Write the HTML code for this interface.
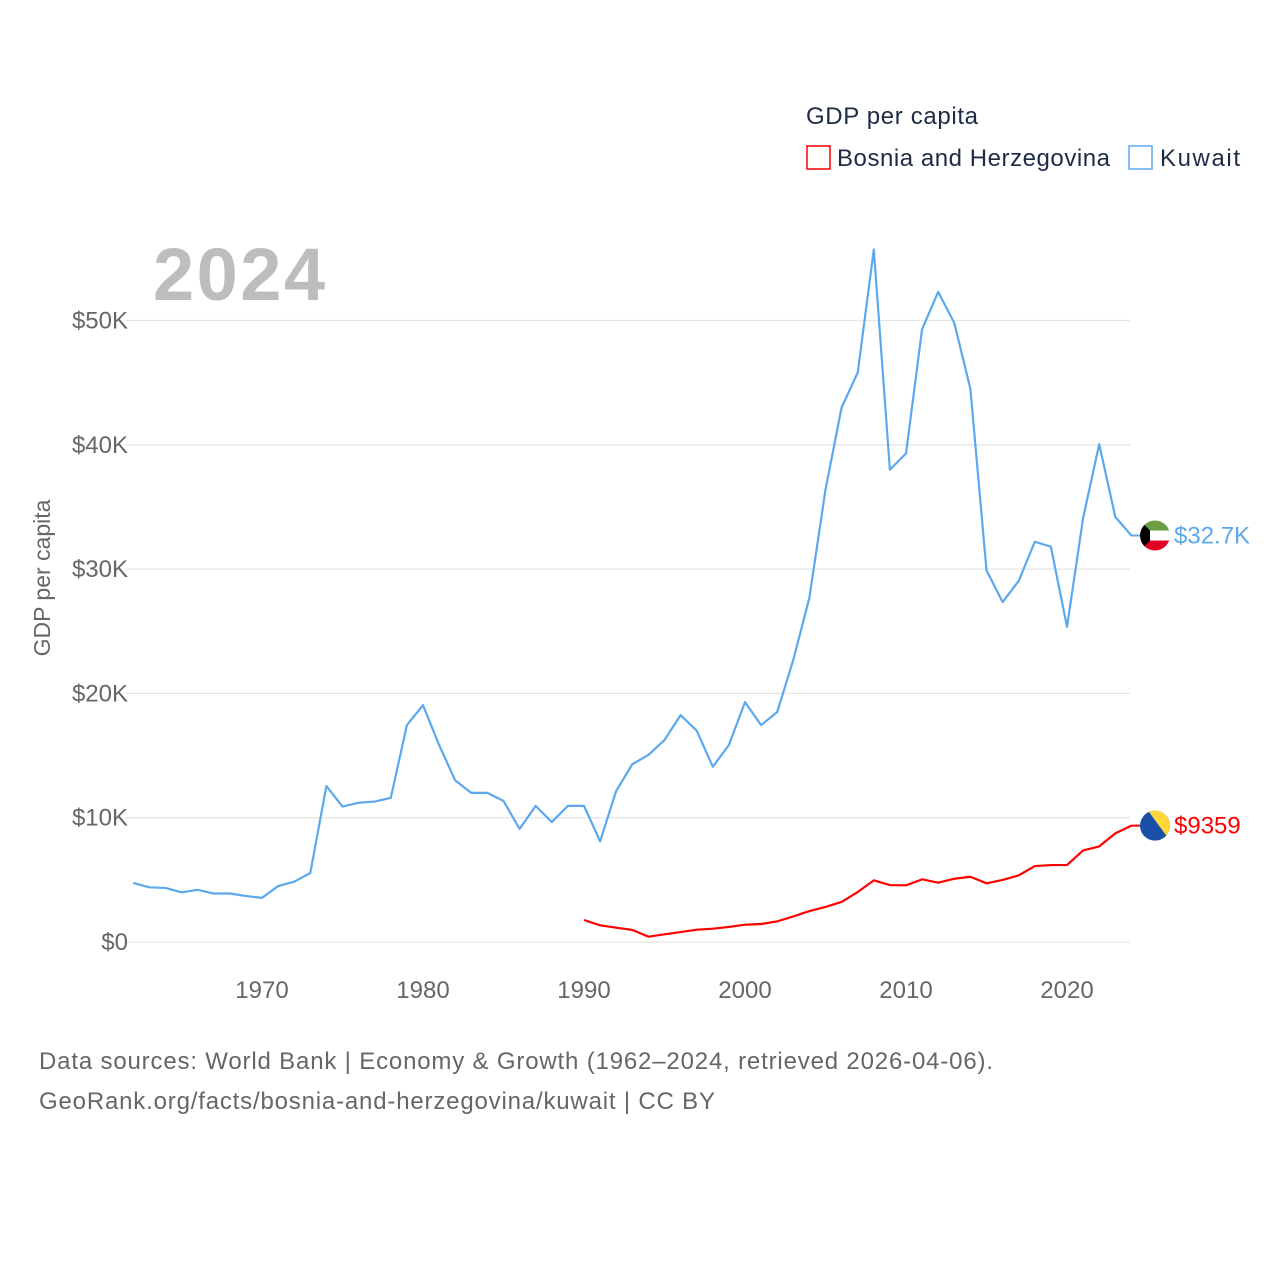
<!DOCTYPE html>
<html><head><meta charset="utf-8"><style>
body{margin:0;background:#fff;font-family:"Liberation Sans",sans-serif;}
svg text{font-family:"Liberation Sans",sans-serif;}
</style></head><body>
<svg id="chart" width="1280" height="1280" xmlns="http://www.w3.org/2000/svg">
<text x="806" y="124" font-size="24" fill="#1d2b45" textLength="172">GDP per capita</text>
<rect x="807" y="146" width="23" height="23" fill="none" stroke="#ff0000" stroke-width="1.5"/>
<text x="837" y="166" font-size="24" fill="#1d2b45" textLength="273">Bosnia and Herzegovina</text>
<rect x="1129" y="146" width="23" height="23" fill="none" stroke="#5ba8ee" stroke-width="1.5"/>
<text x="1160" y="166" font-size="24" fill="#1d2b45" textLength="80">Kuwait</text>
<text x="153" y="300" font-size="74" font-weight="bold" fill="#bdbdbd" textLength="172">2024</text>
<text transform="translate(50,578) rotate(-90)" text-anchor="middle" font-size="23" fill="#666">GDP per capita</text>
<g id="grid"></g><g id="series"></g>
<text x="39" y="1069" font-size="24" fill="#666" textLength="954">Data sources: World Bank | Economy &amp; Growth (1962–2024, retrieved 2026-04-06).</text>
<text x="39" y="1109" font-size="24" fill="#666" textLength="676">GeoRank.org/facts/bosnia-and-herzegovina/kuwait | CC BY</text>
</svg>
<script>
const yTicks=[0,10,20,30,40,50];
const yTickLabels=["$0","$10K","$20K","$30K","$40K","$50K"];
const xTicks=[1970,1980,1990,2000,2010,2020];
const kuwaitYears=[1962,1963,1964,1965,1966,1967,1968,1969,1970,1971,1972,1973,1974,1975,1976,1977,1978,1979,1980,1981,1982,1983,1984,1985,1986,1987,1988,1989,1990,1991,1992,1993,1994,1995,1996,1997,1998,1999,2000,2001,2002,2003,2004,2005,2006,2007,2008,2009,2010,2011,2012,2013,2014,2015,2016,2017,2018,2019,2020,2021,2022,2023,2024];
const kuwaitValues=[4.75,4.4,4.35,4.0,4.2,3.9,3.9,3.7,3.55,4.5,4.85,5.55,12.55,10.9,11.2,11.3,11.6,17.45,19.05,15.85,13.0,12.0,12.0,11.35,9.1,10.95,9.65,10.95,10.95,8.1,12.15,14.3,15.05,16.25,18.25,17.0,14.1,15.85,19.3,17.45,18.5,22.7,27.7,36.4,43.0,45.8,55.7,38.0,39.3,49.3,52.3,49.8,44.5,29.9,27.35,29.05,32.2,31.8,25.35,34.1,40.05,34.2,32.7];
const bosniaYears=[1990,1991,1992,1993,1994,1995,1996,1997,1998,1999,2000,2001,2002,2003,2004,2005,2006,2007,2008,2009,2010,2011,2012,2013,2014,2015,2016,2017,2018,2019,2020,2021,2022,2023,2024];
const bosniaValues=[1.77,1.34,1.15,0.97,0.43,0.62,0.8,0.99,1.07,1.21,1.39,1.45,1.66,2.06,2.49,2.82,3.22,4.02,4.96,4.58,4.56,5.04,4.77,5.09,5.25,4.72,4.99,5.36,6.11,6.19,6.19,7.37,7.69,8.74,9.359];
const NS='http://www.w3.org/2000/svg';
const xS=y=>133.2+(y-1962)*16.1;
const yS=v=>942-v*12.43;
const grid=document.getElementById('grid'),series=document.getElementById('series');
function mk(tag,attrs,parent){const e=document.createElementNS(NS,tag);for(const k in attrs)e.setAttribute(k,attrs[k]);parent.appendChild(e);return e;}
yTicks.forEach((t,i)=>{
  const l=mk('line',{x1:125,x2:1130,y1:yS(t),y2:yS(t),stroke:'#e6e6e6','stroke-width':1.3},grid);
  
  
  const tx=mk('text',{x:128,y:yS(t)+8,'text-anchor':'end','font-size':24,fill:'#666'},grid);
  tx.textContent=yTickLabels[i];
  
  
});
xTicks.forEach(t=>{
  const tx=mk('text',{x:xS(t),y:998,'text-anchor':'middle','font-size':24,fill:'#666'},grid);
  tx.textContent=t;
  
  
});
function line(years,vals,color,name){
  const p=mk('polyline',{points:years.map((y,i)=>xS(y)+','+yS(vals[i])).join(' '),fill:'none',stroke:color,'stroke-width':2.2,'stroke-linejoin':'round'},series);
  
  
}
line(kuwaitYears,kuwaitValues,'#5ba8ee','kuwait-line');
line(bosniaYears,bosniaValues,'#ff0000','bosnia-line');
function endLabel(v,color,txt,name,flag){
  const cy=yS(v);
  const c=mk('line',{x1:1131,x2:1141,y1:cy,y2:cy,stroke:color,'stroke-width':2},series);
  
  
  const g=mk('g',{},series);
  
  
  const cid=name+'clip';
  const cp=mk('clipPath',{id:cid},g);mk('circle',{cx:1155,cy:cy,r:15},cp);
  const fg=mk('g',{'clip-path':'url(#'+cid+')'},g);
  flag(fg,cy);
  const t=mk('text',{x:1174,y:cy+8,'font-size':24,fill:color},series);
  t.textContent=txt;
  
  
}
endLabel(kuwaitValues[kuwaitValues.length-1],'#5ba8ee','$32.7K','kuwait',(g,cy)=>{
  mk('rect',{x:1140,y:cy-15,width:30,height:10,fill:'#6a9e40'},g);
  mk('rect',{x:1140,y:cy-5,width:30,height:10,fill:'#fff'},g);
  mk('rect',{x:1140,y:cy+5,width:30,height:10,fill:'#e00024'},g);
  mk('polygon',{points:`1140,${cy-15} 1150,${cy-5} 1150,${cy+5} 1140,${cy+15}`,fill:'#000'},g);
});
endLabel(bosniaValues[bosniaValues.length-1],'#ff0000','$9359','bosnia',(g,cy)=>{
  mk('rect',{x:1140,y:cy-15,width:30,height:30,fill:'#1a4fa8'},g);
  mk('polygon',{points:`1148,${cy-15} 1170,${cy-15} 1170,${cy+15}`,fill:'#fed83a'},g);
});
</script>
</body></html>
